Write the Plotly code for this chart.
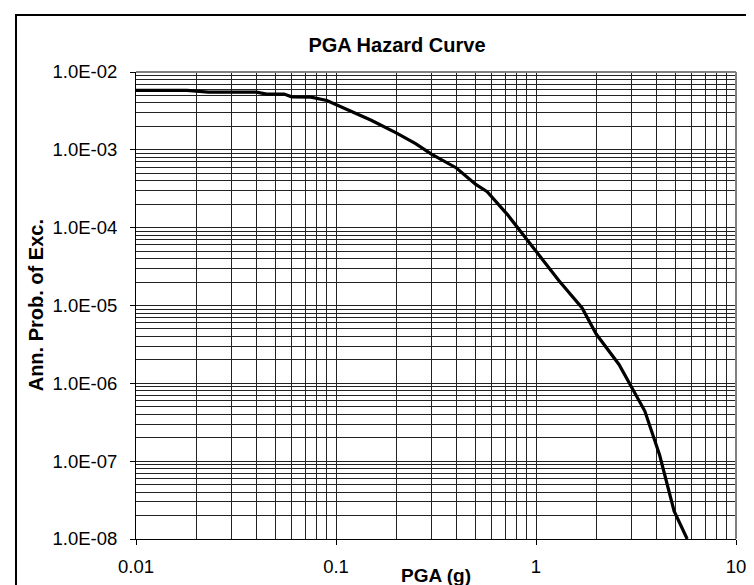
import plotly.graph_objects as go

# PGA (g) and annual probability of exceedance
pga = [0.01, 0.018, 0.023, 0.04, 0.045, 0.055, 0.06, 0.075, 0.09, 0.11,
       0.15, 0.2, 0.25, 0.3, 0.4, 0.5, 0.57, 0.72, 1.0, 1.3,
       1.7, 2.0, 2.6, 3.0, 3.5, 4.15, 4.9, 5.7]
prob = [5.8e-3, 5.8e-3, 5.5e-3, 5.5e-3, 5.2e-3, 5.2e-3, 4.8e-3, 4.75e-3, 4.3e-3, 3.45e-3,
        2.4e-3, 1.65e-3, 1.2e-3, 8.8e-4, 5.85e-4, 3.6e-4, 2.9e-4, 1.47e-4, 4.9e-5, 2.1e-5,
        9.3e-6, 4.3e-6, 1.75e-6, 9.2e-7, 4.4e-7, 1.2e-7, 2.3e-8, 1.0e-8]

x_major = [0.01, 0.1, 1, 10]
x_labels = ["0.01", "0.1", "1", "10"]
y_major = [1e-2, 1e-3, 1e-4, 1e-5, 1e-6, 1e-7, 1e-8]
y_labels = ["1.0E-02", "1.0E-03", "1.0E-04", "1.0E-05", "1.0E-06", "1.0E-07", "1.0E-08"]

x_minor = [k * 10.0 ** e for e in range(-2, 1) for k in range(2, 10)]
y_minor = [k * 10.0 ** e for e in range(-8, -2) for k in range(2, 10)]

FONT = "Liberation Sans, Arial, sans-serif"
grid_col = "#222222"

fig = go.Figure(go.Scatter(
    x=pga, y=prob, mode="lines",
    line=dict(color="black", width=3.2),
    showlegend=False,
))

axis_style = dict(
    type="log",
    ticks="outside", ticklen=5, tickcolor="black",
    showgrid=True, gridcolor=grid_col, gridwidth=1,
    showline=True, linecolor="black", linewidth=1,
    tickfont=dict(size=18.5, color="black"),
    zeroline=False,
)
fig.update_xaxes(
    range=[-2, 1], tickvals=x_major, ticktext=x_labels,
    minor=dict(tickvals=x_minor, showgrid=True, gridcolor=grid_col, gridwidth=1, ticks=""),
    ticklabelstandoff=6,
    **axis_style,
)
fig.update_yaxes(
    range=[-8, -2], tickvals=y_major, ticktext=y_labels,
    minor=dict(tickvals=y_minor, showgrid=True, gridcolor=grid_col, gridwidth=1, ticks=""),
    ticklabelstandoff=9,
    **axis_style,
)

fig.update_layout(
    width=754, height=585,
    margin=dict(l=128, r=26, t=64, b=54),
    paper_bgcolor="white", plot_bgcolor="white",
    font=dict(family=FONT, color="black"),
    title=dict(text="<b>PGA Hazard Curve</b>", font=dict(size=20),
               xref="paper", x=0.435, xanchor="center",
               yref="container", y=1 - 37 / 585, yanchor="middle"),
    annotations=[
        dict(text="<b>PGA (g)</b>", xref="paper", yref="paper", x=0.5, y=-0.078,
             xanchor="center", yanchor="middle", showarrow=False, font=dict(size=19)),
        dict(text="<b>Ann. Prob. of Exc.</b>", xref="paper", yref="paper", x=-0.167, y=0.5,
             xanchor="center", yanchor="middle", textangle=-90, showarrow=False,
             font=dict(size=20)),
    ],
    shapes=[
        # outer chart frame (runs off the right and bottom of the picture)
        dict(type="rect", xref="paper", yref="paper", x0=-0.2, x1=1.2, y0=-0.3, y1=1.122,
             line=dict(color="black", width=2), layer="above"),
        # grey plot-area border on top and right
        dict(type="line", xref="paper", yref="paper", x0=0, x1=1, y0=1, y1=1,
             line=dict(color="#808080", width=2), layer="above"),
        dict(type="line", xref="paper", yref="paper", x0=1, x1=1, y0=0, y1=1,
             line=dict(color="#808080", width=2), layer="above"),
    ],
)

fig.write_html("out.html")
